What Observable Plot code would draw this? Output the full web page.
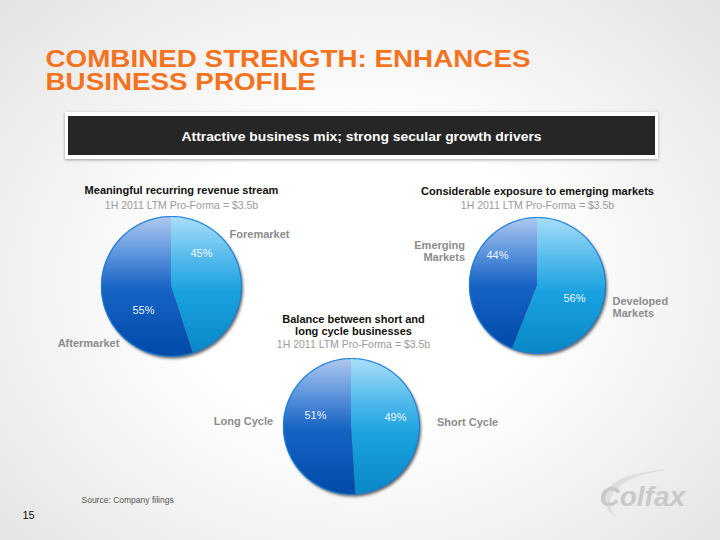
<!DOCTYPE html>
<html>
<head>
<meta charset="utf-8">
<script src="https://cdn.jsdelivr.net/npm/d3@7"></script>
<script src="https://cdn.jsdelivr.net/npm/@observablehq/plot@0.6"></script>
<style>
  body { margin: 0; }
  #slide {
    position: relative; width: 720px; height: 540px; overflow: hidden;
    font-family: "Liberation Sans", Arial, sans-serif;
    background: radial-gradient(ellipse 72% 78% at 50% 52%, #ffffff 35%, #f4f4f4 60%, #e1e1e1 100%);
  }
  #bannerOuter {
    position: absolute; left: 65px; top: 112px; width: 593px; height: 47px;
    background: #ffffff; box-shadow: 0 1px 3px rgba(0,0,0,0.35);
  }
  #bannerInner {
    position: absolute; left: 68px; top: 116px; width: 587px; height: 39px; background: #262626;
  }
  #chart { position: absolute; left: 0; top: 0; }
  #swoosh { position: absolute; left: 0; top: 0; }
  #err { position: absolute; left: 5px; top: 5px; font-size: 12px; color: red; z-index: 10; }
</style>
</head>
<body>
<div id="slide">
  <div id="bannerOuter"></div>
  <div id="bannerInner"></div>
  <svg id="swoosh" width="720" height="540">
    <path d="M618,518 C596,506 602,484 628,476 C642,472 655,470 668,469 C652,472 636,476 624,483 C607,494 606,508 618,518 Z" fill="#dedede"/>
  </svg>
  <div id="chart"></div>
  <div id="err"></div>
</div>
<script>
// ---------- data ----------
const headingLines = ["COMBINED STRENGTH: ENHANCES", "BUSINESS PROFILE"];
const bannerText = "Attractive business mix; strong secular growth drivers";
const pieNames = ["recurring", "markets", "cycle"];
const pieTitles = [
  "Meaningful recurring revenue stream",
  "Considerable exposure to emerging markets",
  "Balance between short and\nlong cycle businesses"
];
const pieSubtitle = "1H 2011 LTM Pro-Forma = $3.5b";
const sliceLabels = [
  ["Foremarket", "Aftermarket"],
  ["Developed\nMarkets", "Emerging\nMarkets"],
  ["Short Cycle", "Long Cycle"]
];
const sliceValues = [
  [45, 55],
  [56, 44],
  [49, 51]
];
const sourceNote = "Source: Company filings";
const pageNumber = "15";
const logoText = "Colfax";

// ---------- layout ----------
const W = 720, H = 540;
const FONT = "Liberation Sans, Arial, sans-serif";
const pieLayout = [
  {cx: 171, cy: 286, r: 70, tx: 181, ty: 190, sy: 205.5},
  {cx: 537, cy: 285, r: 68, tx: 537, ty: 191, sy: 205.5},
  {cx: 351, cy: 426, r: 68, tx: 353, ty: 325, sy: 344}
];
const pctOffsets = [
  [[30, -33], [-28, 24]],
  [[37, 13], [-40, -30]],
  [[44, -9], [-36, -11]]
];
const catPos = [
  [{x: 259, y: 233.5, a: "middle"}, {x: 88, y: 342.5, a: "middle"}],
  [{x: 612, y: 307, a: "start"}, {x: 464.5, y: 251, a: "end"}],
  [{x: 467, y: 422, a: "middle"}, {x: 243, y: 421, a: "middle"}]
];

function arcPts(cx, cy, r, a0, a1) {
  const n = Math.max(2, Math.ceil((a1 - a0) / (Math.PI / 180)));
  const pts = [];
  for (let k = 0; k <= n; k++) {
    const a = a0 + (a1 - a0) * k / n;
    pts.push([cx + r * Math.sin(a), cy - r * Math.cos(a)]);
  }
  return pts;
}

const sliceRows = [], circleRows = [], pctRows = [], catRows = [], titleRows = [], subRows = [];
pieNames.forEach((name, p) => {
  const L = pieLayout[p];
  const arcs = d3.pie().sort(null)(sliceValues[p]);
  arcs.forEach((a, i) => {
    const id = name + "-" + i;
    arcPts(L.cx, L.cy, L.r, a.startAngle, a.endAngle)
      .forEach(([x, y]) => sliceRows.push({id, x, y, cx: L.cx, cy: L.cy, tone: i === 0 ? "light" : "dark"}));
    pctRows.push({x: L.cx + pctOffsets[p][i][0], y: L.cy + pctOffsets[p][i][1], text: sliceValues[p][i] + "%"});
    const c = catPos[p][i];
    catRows.push({x: c.x, y: c.y, anchor: c.a, text: sliceLabels[p][i]});
  });
  arcPts(L.cx, L.cy, L.r, 0, 2 * Math.PI).forEach(([x, y]) => circleRows.push({id: name, x, y, cx: L.cx, cy: L.cy}));
  titleRows.push({x: L.tx, y: L.ty, text: pieTitles[p]});
  subRows.push({x: L.tx, y: L.sy, text: pieSubtitle});
});

const textBase = {x: "x", y: "y", text: "text", fontFamily: FONT};
const errBox = document.getElementById("err");

try {
const plot = Plot.plot({
  width: W, height: H, margin: 0,
  style: {background: "transparent", overflow: "visible"},
  x: {domain: [0, W], range: [0, W], axis: null},
  y: {domain: [0, H], range: [0, H], axis: null},
  marks: [
    // area 0: shadow, area 1: light slices, area 2: dark slices
    Plot.area(circleRows, {x1: "x", y1: "y", x2: "cx", y2: "cy", z: "id", fill: "#000000", fillOpacity: 0.6, dx: 2, dy: 2.5}),
    Plot.area(sliceRows.filter(d => d.tone === "light"), {x1: "x", y1: "y", x2: "cx", y2: "cy", z: "id", fill: "#1aa2e0"}),
    Plot.area(sliceRows.filter(d => d.tone === "dark"), {x1: "x", y1: "y", x2: "cx", y2: "cy", z: "id", fill: "#1763c4"}),
    Plot.line(circleRows, {x: "x", y: "y", z: "id", stroke: "#1b7fd8", strokeWidth: 1.2, strokeOpacity: 0.9}),
    // text 0: heading, text 1: banner
    Plot.text(headingLines, {x: () => 45, y: (d, i) => 66.7 + i * 22.3, text: d => d, textAnchor: "start", lineAnchor: "bottom",
      fontFamily: FONT, fontSize: 24.5, fontWeight: "bold", fill: "#f4731f"}),
    Plot.text([bannerText], {x: () => 361, y: () => 140.7, text: d => d, lineAnchor: "bottom",
      fontFamily: FONT, fontSize: 12.8, fontWeight: "bold", fill: "#ffffff"}),
    Plot.text(pctRows, {...textBase, fill: "#ffffff", fillOpacity: 0.92, fontSize: 11}),
    Plot.text(catRows.filter(d => d.anchor === "middle"), {...textBase, fill: "#8c8c8c", fontSize: 11, fontWeight: "bold", lineHeight: 1.05}),
    Plot.text(catRows.filter(d => d.anchor === "start"), {...textBase, fill: "#8c8c8c", fontSize: 11, fontWeight: "bold", lineHeight: 1.05, textAnchor: "start"}),
    Plot.text(catRows.filter(d => d.anchor === "end"), {...textBase, fill: "#8c8c8c", fontSize: 11, fontWeight: "bold", lineHeight: 1.05, textAnchor: "end"}),
    Plot.text(titleRows, {...textBase, fill: "#111111", fontSize: 11, fontWeight: "bold", lineHeight: 1.1}),
    Plot.text(subRows, {...textBase, fill: "#9a9a9a", fontSize: 10.5}),
    Plot.text([sourceNote], {x: () => 81, y: () => 499.5, text: d => d, textAnchor: "start", fontFamily: FONT, fontSize: 8.5, fill: "#555555"}),
    Plot.text([pageNumber], {x: () => 22, y: () => 514.5, text: d => d, textAnchor: "start", fontFamily: FONT, fontSize: 11, fill: "#111111"}),
    Plot.text([logoText], {x: () => 599, y: () => 505.5, text: d => d, textAnchor: "start", lineAnchor: "bottom",
      fontFamily: FONT, fontSize: 28, fontWeight: "bold", fontStyle: "italic", fill: "#c9c9c9"})
  ]
});

document.getElementById("chart").appendChild(plot);

try {
  const svg = d3.select(plot);
  const defs = svg.insert("defs", ":first-child");
  const gl = defs.append("linearGradient").attr("id", "gLight").attr("x1", 0).attr("y1", 0).attr("x2", 0).attr("y2", 1);
  [[0, "#aadff8"], [0.3, "#56bbec"], [0.55, "#1aa2e0"], [1, "#0a88c8"]].forEach(([o, c]) => gl.append("stop").attr("offset", o).attr("stop-color", c));
  const gd = defs.append("linearGradient").attr("id", "gDark").attr("x1", 0).attr("y1", 0).attr("x2", 0).attr("y2", 1);
  [[0, "#afc9ee"], [0.28, "#5a92dc"], [0.52, "#1763c4"], [1, "#004aa8"]].forEach(([o, c]) => gd.append("stop").attr("offset", o).attr("stop-color", c));
  const f = defs.append("filter").attr("id", "blur").attr("x", "-20%").attr("y", "-20%").attr("width", "140%").attr("height", "140%");
  f.append("feGaussianBlur").attr("stdDeviation", 1.6);

  const areas = svg.selectAll('g[aria-label="area"]').nodes();
  if (areas.length === 3) {
    areas[0].setAttribute("filter", "url(#blur)");
    areas[1].setAttribute("fill", "url(#gLight)");
    areas[2].setAttribute("fill", "url(#gDark)");
  } else errBox.textContent = "areas=" + areas.length;

  const texts = svg.selectAll('g[aria-label="text"]').nodes();
  const h = texts[0] ? Array.from(texts[0].querySelectorAll("text")) : [];
  if (h.length) {
    const k = 485 / h[0].getComputedTextLength();
    h.forEach(t => { const len = t.getComputedTextLength(); t.setAttribute("textLength", len * k); t.setAttribute("lengthAdjust", "spacingAndGlyphs"); });
  }
  const b = texts[1] ? texts[1].querySelector("text") : null;
  if (b) { b.setAttribute("textLength", 360); b.setAttribute("lengthAdjust", "spacingAndGlyphs"); }
} catch (e) { errBox.textContent = "post: " + e; }
} catch (e) { errBox.textContent = "plot: " + e; }
</script>
</body>
</html>
